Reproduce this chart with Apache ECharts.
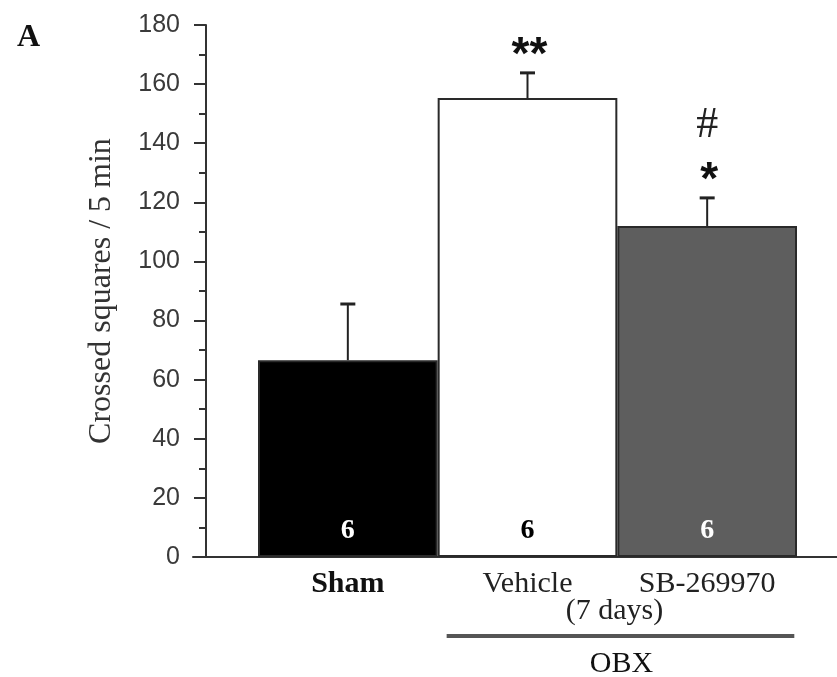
<!DOCTYPE html>
<html>
<head>
<meta charset="utf-8">
<script src="https://cdn.jsdelivr.net/npm/echarts@6/dist/echarts.min.js"></script>
<style>
html,body{margin:0;padding:0;background:#fff;}
#main{width:837px;height:677px;}
</style>
</head>
<body>
<div id="main"></div>
<script>
// ---- data ----
var categories = ['Sham', 'Vehicle', 'SB-269970'];
var means = [66.6, 155.3, 112.0];
var sems = [19.0, 8.5, 9.5];
var nLabels = ['6', '6', '6'];
var sigStar = ['', '**', '*'];
var sigHash = ['', '', '#'];
var yTicks = [0, 20, 40, 60, 80, 100, 120, 140, 160, 180];
var groupSub = '(7 days)';
var groupName = 'OBX';

var barColors = ['#000000', '#ffffff', '#5e5e5e'];
var nColors = ['#ffffff', '#000000', '#ffffff'];

var serif = '"Liberation Serif", "Times New Roman", serif';
var sans = '"Liberation Sans", Arial, sans-serif';

var chart = echarts.init(document.getElementById('main'));

var option = {
  backgroundColor: '#ffffff',
  animation: false,
  title: {
    text: 'A', left: 12, top: 17,
    textStyle: { fontFamily: serif, fontWeight: 'bold', fontSize: 32, color: '#111' }
  },
  grid: [
    { left: 258, right: 40, top: 25, bottom: 120 },
    { left: 193, right: 0, top: 25, bottom: 120 }
  ],
  xAxis: [
    {
      type: 'category', gridIndex: 0, data: categories,
      axisLine: { show: false }, axisTick: { show: false },
      axisLabel: {
        interval: 0, hideOverlap: false,
        margin: 12,
        fontFamily: serif, fontSize: 30, color: '#222',
        formatter: function (v, i) { return i === 0 ? '{b|' + v + '}' : '{r|' + v + '}'; },
        rich: {
          b: { fontFamily: serif, fontSize: 30, fontWeight: 'bold', color: '#111' },
          r: { fontFamily: serif, fontSize: 30, color: '#222' }
        }
      }
    },
    {
      type: 'value', gridIndex: 1, min: 0, max: 1,
      axisLine: { show: true, lineStyle: { color: '#333', width: 2 } },
      axisTick: { show: false }, axisLabel: { show: false }, splitLine: { show: false }
    }
  ],
  yAxis: [
    {
      type: 'value', gridIndex: 0, min: yTicks[0], max: yTicks[yTicks.length - 1], interval: 20,
      offset: 52,
      name: 'Crossed squares / 5 min',
      nameLocation: 'middle', nameRotate: 90, nameGap: 88,
      nameTextStyle: { fontFamily: serif, fontSize: 32, color: '#333' },
      axisLine: { show: true, lineStyle: { color: '#333', width: 2 } },
      axisTick: { show: true, inside: false, length: 12, lineStyle: { color: '#333', width: 2 } },
      minorTick: { show: true, splitNumber: 2, length: 7, lineStyle: { color: '#333', width: 2 } },
      axisLabel: { margin: 26, fontFamily: sans, fontSize: 25, color: '#3a3a3a' },
      splitLine: { show: false }
    },
    {
      type: 'value', gridIndex: 1, min: 0, max: 1, show: false
    }
  ],
  series: [
    {
      type: 'bar', xAxisIndex: 0, yAxisIndex: 0,
      barCategoryGap: '0%',
      data: means.map(function (v, i) {
        return {
          value: v,
          itemStyle: { color: barColors[i], borderColor: '#2a2a2a', borderWidth: 2 },
          label: { color: nColors[i] }
        };
      }),
      label: {
        show: true, position: 'insideBottom', distance: 12,
        fontFamily: serif, fontSize: 28, fontWeight: 'bold',
        formatter: function (p) { return nLabels[p.dataIndex]; }
      },
      z: 2
    },
    {
      type: 'custom', xAxisIndex: 0, yAxisIndex: 0, z: 5,
      data: means.map(function (v, i) { return [i, v, v + sems[i]]; }),
      renderItem: function (params, api) {
        var i = api.value(0);
        var base = api.coord([i, api.value(1)]);
        var top = api.coord([i, api.value(2)]);
        var capHalf = 7.5;
        var children = [
          { type: 'line', shape: { x1: base[0], y1: base[1], x2: top[0], y2: top[1] },
            style: { stroke: '#222', lineWidth: 2 } },
          { type: 'line', shape: { x1: top[0] - capHalf, y1: top[1], x2: top[0] + capHalf, y2: top[1] },
            style: { stroke: '#222', lineWidth: 3 } }
        ];
        if (sigStar[i]) {
          children.push({ type: 'text', x: top[0] + 2, y: top[1] + 6,
            style: { text: sigStar[i], font: 'bold 46px ' + sans, fill: '#111', align: 'center', verticalAlign: 'bottom' } });
        }
        if (sigHash[i]) {
          children.push({ type: 'text', x: top[0], y: top[1] - 50,
            style: { text: sigHash[i], font: '44px ' + serif, fill: '#222', align: 'center', verticalAlign: 'bottom' } });
        }
        return { type: 'group', children: children };
      }
    }
  ]
};
chart.setOption(option);

// group bracket under the OBX categories, positioned from the category axis
var cV = chart.convertToPixel({ xAxisIndex: 0 }, categories[1]);
var cS = chart.convertToPixel({ xAxisIndex: 0 }, categories[2]);
var band = cS - cV;
var x1 = cV - band * 0.45;
var x2 = cS + band * 0.485;
var baseY = chart.convertToPixel({ yAxisIndex: 0 }, 0);
chart.setOption({
  graphic: [
    { type: 'text', x: (x1 + x2) / 2 - 6, y: baseY + 54,
      style: { text: groupSub, font: '30px ' + serif, fill: '#222', align: 'center', verticalAlign: 'middle' } },
    { type: 'line', shape: { x1: x1, y1: baseY + 79, x2: x2, y2: baseY + 79 },
      style: { stroke: '#555', lineWidth: 4 } },
    { type: 'text', x: (x1 + x2) / 2 + 1, y: baseY + 107,
      style: { text: groupName, font: '30px ' + serif, fill: '#111', align: 'center', verticalAlign: 'middle' } }
  ]
});
</script>
</body>
</html>
